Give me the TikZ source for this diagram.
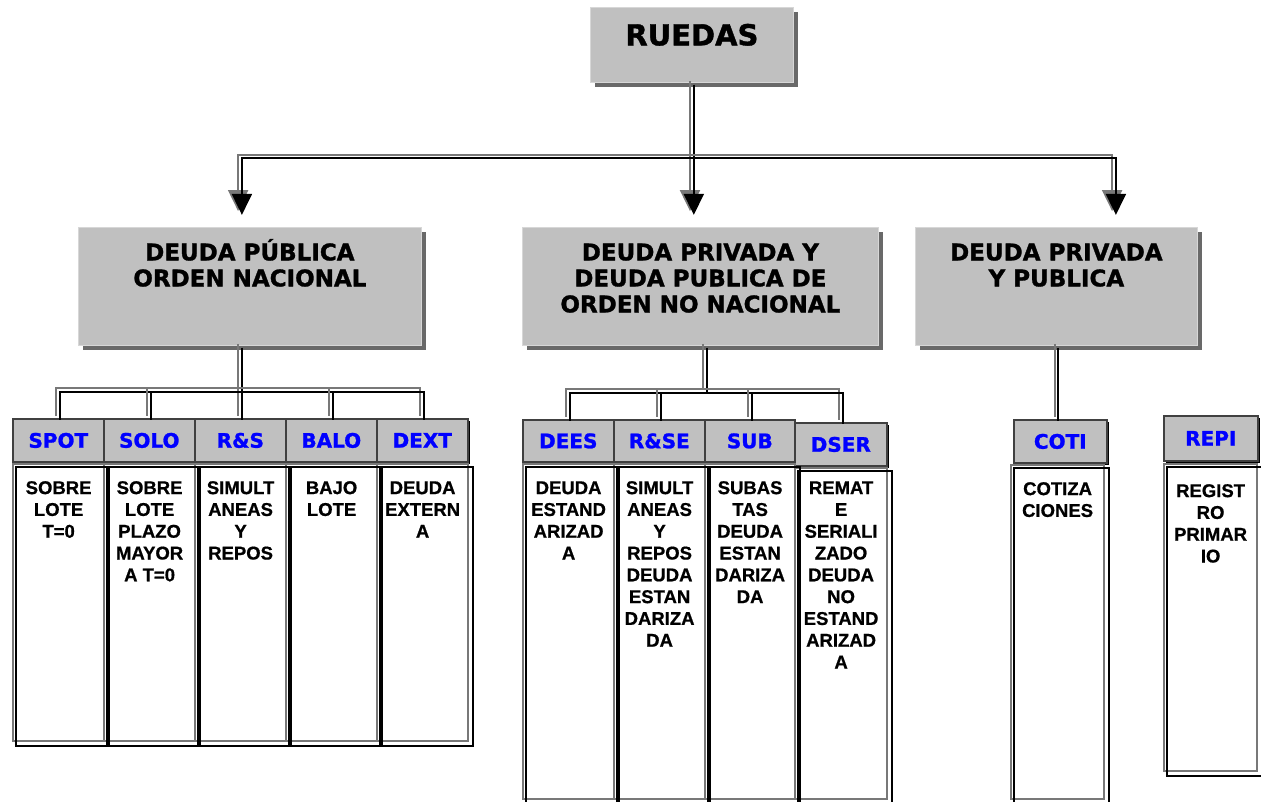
\documentclass[tikz,border=0pt]{standalone}
\usepackage{fontspec}
\setmainfont{DejaVu Sans}[BoldFeatures={FakeBold=1.3}]
\newfontfamily\arialf{Liberation Sans}[BoldFeatures={FakeBold=0.8}]
\usetikzlibrary{arrows.meta,shadows}
\definecolor{boxgray}{RGB}{192,192,192}
\definecolor{shadowgray}{RGB}{105,105,105}
\definecolor{linegray}{RGB}{120,120,120}
\definecolor{hdrborder}{RGB}{64,64,64}
\definecolor{rimgray}{RGB}{215,215,215}
\definecolor{hdrblue}{RGB}{0,0,255}
\newcommand\boxtext[4]{\parbox[c][#1][t]{#2}{\centering\rule{0pt}{#3}#4}}
\newcommand\dconn[2][]{\draw[gline,#1] #2; \draw[bline,#1] #2;}
\begin{document}
\begin{tikzpicture}[x=1pt,y=-1pt,
  topbox/.style={draw=rimgray, line width=0.8pt, fill=boxgray, inner sep=0pt, anchor=north west,
    general shadow={shadow xshift=5pt, shadow yshift=-5pt, fill=shadowgray},
    font=\bfseries\fontsize{23}{26}\selectfont},
  hdr/.style={draw=hdrborder, line width=1.6pt, fill=boxgray, inner sep=0pt, anchor=north west,
    text=hdrblue, general shadow={shadow xshift=2.5pt, shadow yshift=-2.5pt, fill=black},
    font=\bfseries\fontsize{20}{24}\selectfont, text depth=0pt},
  body/.style={draw=linegray, line width=2.2pt, inner sep=0pt, anchor=north west,
    font=\arialf\bfseries\fontsize{18.5}{21.8}\selectfont},
  bodyrim/.style={draw=black, line width=1.8pt},
  gline/.style={draw=linegray, line width=2pt, transform canvas={shift={(-1.9pt,1.9pt)}}},
  bline/.style={draw=black, line width=2pt, transform canvas={shift={(1.9pt,-1.9pt)}}},
  tip/.style={-{Triangle[length=21pt,width=20pt]}, shorten >=14pt},
  tips/.style={{Triangle[length=21pt,width=20pt]}-{Triangle[length=21pt,width=20pt]}, shorten >=14pt, shorten <=14pt}
]
\useasboundingbox (0,0) rectangle (1261,802);

% top level boxes
\node[topbox] (ruedas) at (590,7) {\boxtext{75pt}{203pt}{38pt}{\fontsize{29}{32}\selectfont RUEDAS}};
\node[topbox] (dpub) at (78,227) {\boxtext{118pt}{343pt}{33pt}{DEUDA PÚBLICA\\ORDEN NACIONAL}};
\node[topbox] (dpriv) at (522,227) {\boxtext{118pt}{356pt}{33pt}{DEUDA PRIVADA Y\\DEUDA PUBLICA DE\\ORDEN NO NACIONAL}};
\node[topbox] (dpp) at (915,227) {\boxtext{118pt}{282pt}{33pt}{DEUDA PRIVADA\\Y PUBLICA}};

% headers
\node[hdr, minimum width=91pt, minimum height=43pt] (h1) at (12,418) {SPOT};
\node[hdr, minimum width=91pt, minimum height=43pt] (h2) at (103,418) {SOLO};
\node[hdr, minimum width=91pt, minimum height=43pt] (h3) at (194,418) {R\&S};
\node[hdr, minimum width=91pt, minimum height=43pt] (h4) at (285,418) {BALO};
\node[hdr, minimum width=91pt, minimum height=43pt] (h5) at (376,418) {DEXT};
\node[hdr, minimum width=91pt, minimum height=42pt] (h6) at (522,419) {DEES};
\node[hdr, minimum width=91pt, minimum height=42pt] (h7) at (613,419) {R\&SE};
\node[hdr, minimum width=90pt, minimum height=42pt] (h8) at (704,419) {SUB};
\node[hdr, minimum width=92pt, minimum height=43pt] (h9) at (794,422) {DSER};
\node[hdr, minimum width=93pt, minimum height=43pt] (h10) at (1013,419) {COTI};
\node[hdr, minimum width=94pt, minimum height=45pt] (h11) at (1163,415) {REPI};

% bodies
\node[body] (c1) at (12,463) {\boxtext{277pt}{91pt}{30pt}{SOBRE\\LOTE\\T=0}};
\node[body] (c2) at (103,463) {\boxtext{277pt}{91pt}{30pt}{SOBRE\\LOTE\\PLAZO\\MAYOR\\A T=0}};
\node[body] (c3) at (194,463) {\boxtext{277pt}{91pt}{30pt}{SIMULT\\ANEAS\\Y\\REPOS}};
\node[body] (c4) at (285,463) {\boxtext{277pt}{91pt}{30pt}{BAJO\\LOTE}};
\node[body] (c5) at (376,463) {\boxtext{277pt}{91pt}{30pt}{DEUDA\\EXTERN\\A}};
\node[body] (c6) at (522,463) {\boxtext{335pt}{91pt}{30pt}{DEUDA\\ESTAND\\ARIZAD\\A}};
\node[body] (c7) at (613,463) {\boxtext{335pt}{91pt}{30pt}{SIMULT\\ANEAS\\Y\\REPOS\\DEUDA\\ESTAN\\DARIZA\\DA}};
\node[body] (c8) at (704,463) {\boxtext{335pt}{90pt}{30pt}{SUBAS\\TAS\\DEUDA\\ESTAN\\DARIZA\\DA}};
\node[body] (c9) at (794,467) {\boxtext{331pt}{92pt}{26pt}{REMAT\\E\\SERIALI\\ZADO\\DEUDA\\NO\\ESTAND\\ARIZAD\\A}};
\node[body] (c10) at (1010,464) {\boxtext{334pt}{93pt}{30pt}{COTIZA\\CIONES}};
\node[body] (c11) at (1163,463) {\boxtext{307pt}{93pt}{33pt}{REGIST\\RO\\PRIMAR\\IO}};
\foreach \n in {c1,c2,c3,c4,c5,c6,c7,c8,c9,c10,c11}
  \draw[bodyrim] ([shift={(4pt,-4pt)}]\n.north west) rectangle ([shift={(4pt,-4pt)}]\n.south east);

% coordinates for the connectors
\coordinate (tl) at (240,156.5);
\coordinate (tr) at (1114,156.5);
\coordinate (g1) at (0,390);
\coordinate (g2) at (0,391);
\coordinate (m2) at (705,0);

% RUEDAS connectors
\dconn[tip]{(ruedas.south) -- (ruedas.south |- dpriv.north)}
\dconn[tips]{(dpub.north -| tl) -- (tl) -- (tr) -- (dpp.north -| tr)}

% group 1
\dconn{(h3.north |- dpub.south) -- (h3.north)}
\dconn{(h1.north) -- (h1.north |- g1) -- (h5.north |- g1) -- (h5.north)}
\dconn{(h2.north |- g1) -- (h2.north)}
\dconn{(h4.north |- g1) -- (h4.north)}

% group 2
\dconn{(dpriv.south -| m2) -- (m2 |- g2)}
\dconn{(h6.north) -- (h6.north |- g2) -- (h9.north |- g2) -- (h9.north)}
\dconn{(h7.north |- g2) -- (h7.north)}
\dconn{(h8.north |- g2) -- (h8.north)}

% group 3
\dconn{(dpp.south) -- (dpp.south |- h10.north)}
\end{tikzpicture}
\end{document}
